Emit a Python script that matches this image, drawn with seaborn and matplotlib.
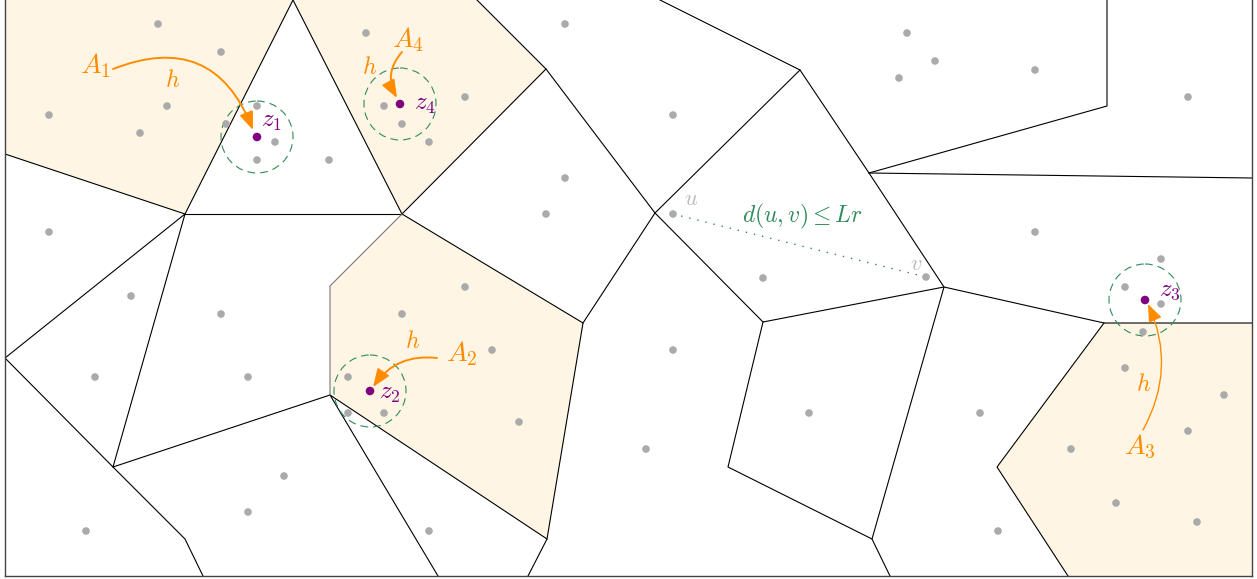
import matplotlib
matplotlib.use('Agg')
import matplotlib.pyplot as plt
from matplotlib.patches import Polygon, Circle, FancyArrowPatch
import seaborn as sns

plt.rcParams['mathtext.fontset'] = 'cm'

# coordenadas em pixels (y para baixo)
pts_x = [158, 221, 49, 167, 140, 226, 257, 257, 275, 329, 366, 384, 402, 429, 465,
         565, 673, 565, 546, 673, 49, 131, 221, 95, 248, 402, 465, 492, 348, 348,
         384, 519, 429, 284, 248, 86, 673, 646, 763, 926, 809, 907, 935, 899, 1035,
         1188, 1035, 1161, 1125, 1161, 1143, 1125, 1224, 1188, 1071, 1116, 1197, 998, 980]
pts_y = [24, 52, 115, 106, 133, 124, 106, 160, 142, 160, 33, 106, 124, 142, 97,
         24, 115, 178, 214, 214, 232, 296, 314, 377, 377, 314, 287, 350, 377, 413,
         413, 422, 531, 476, 512, 531, 350, 449, 278, 277, 413, 33, 61, 78, 70,
         97, 232, 259, 287, 304, 332, 368, 395, 431, 449, 503, 522, 531, 413]

ctr_x = [257, 370, 1145, 400]
ctr_y = [137, 391, 300, 104]
ctr_labels = [r'$z_1$', r'$z_2$', r'$z_3$', r'$z_4$']
ctr_label_pos = [(271, 121), (390, 393), (1170, 290), (425, 104)]
radius = 36

# regioes sombreadas A1..A4
regions = {
    'A1': [(5, 0), (293, 0), (185, 214), (5, 154)],
    'A2': [(402, 214), (583, 323), (547, 539), (330, 395), (330, 286)],
    'A3': [(1104, 323), (1252, 323), (1252, 576), (1068, 576), (997, 467)],
    'A4': [(293, 0), (477, 0), (546, 69), (402, 214)],
}

# arestas do diagrama
edges = [
    [(5, 154), (185, 214), (293, 0), (402, 214), (546, 69), (477, 0)],
    [(185, 214), (402, 214)],
    [(402, 214), (583, 323), (547, 539), (528, 576)],
    [(547, 539), (330, 395), (438, 576)],
    [(330, 395), (113, 467), (185, 214), (5, 358), (113, 467), (185, 539), (203, 576)],
    [(546, 69), (655, 213), (800, 70), (660, 0)],
    [(800, 70), (869, 173), (1107, 106), (1107, 0)],
    [(869, 173), (1252, 178)],
    [(869, 173), (944, 287), (872, 539), (890, 576)],
    [(655, 213), (583, 323)],
    [(655, 213), (763, 322), (944, 287), (1104, 323), (1252, 323)],
    [(763, 322), (728, 467), (872, 539)],
    [(1104, 323), (997, 467), (1068, 576)],
]
gray_edges = [[(402, 214), (330, 286), (330, 395)]]

# setas h: (inicio, fim, rad, largura)
arrows = [
    ((113, 69), (253, 130), -0.5, 1.4),
    ((437, 358), (373, 387), 0.3, 1.4),
    ((1143, 430), (1148, 304), 0.25, 1.0),
    ((402, 52), (397, 98), 0.35, 1.4),
]
a_labels = [r'$A_1$', r'$A_2$', r'$A_3$', r'$A_4$']
a_label_pos = [(96, 66), (462, 354), (1140, 447), (408, 40)]
h_label_pos = [(173, 80), (413, 341), (1144, 384), (370, 67)]

u_pt = (673, 214)
v_pt = (926, 277)

orange = '#ff8c00'
green = '#2e8b57'
purple = '#800080'
cream = '#fef5e4'

fig = plt.figure(figsize=(12.57, 5.79), dpi=100)
ax = fig.add_axes([5 / 1257, 3 / 579, 1247 / 1257, 576 / 579])
ax.set_xlim(5, 1252)
ax.set_ylim(576, 0)
ax.set_xticks([])
ax.set_yticks([])
for s in ['left', 'right', 'bottom']:
    ax.spines[s].set_color('#444444')
    ax.spines[s].set_linewidth(1.0)
ax.spines['top'].set_visible(False)

for name, verts in regions.items():
    ax.add_patch(Polygon(verts, closed=True, facecolor=cream, edgecolor='none', zorder=1))

for e in edges:
    xs, ys = zip(*e)
    ax.plot(xs, ys, color='black', lw=0.8, zorder=2)
for e in gray_edges:
    xs, ys = zip(*e)
    ax.plot(xs, ys, color='#777777', lw=0.8, zorder=2)

for cx, cy in zip(ctr_x, ctr_y):
    ax.add_patch(Circle((cx, cy), radius, fill=False, edgecolor=green, lw=0.8,
                        linestyle=(0, (7, 4.5)), zorder=3))

ax.plot([u_pt[0], v_pt[0]], [u_pt[1], v_pt[1]], color=green, lw=1.0,
        linestyle=(0, (1, 5)), zorder=3)

sns.scatterplot(x=pts_x, y=pts_y, color='#aaaaaa', s=30, edgecolor='none', ax=ax, zorder=4)
sns.scatterplot(x=ctr_x, y=ctr_y, color=purple, s=38, edgecolor='none', ax=ax, zorder=5)

for (p0, p1, rad, lw) in arrows:
    ax.add_patch(FancyArrowPatch(p0, p1, connectionstyle=f'arc3,rad={rad}',
                                 arrowstyle='-|>,head_length=0.9,head_width=0.35',
                                 mutation_scale=12, color=orange, lw=lw,
                                 shrinkA=0, shrinkB=0, zorder=6))

for lab, (x, y) in zip(a_labels, a_label_pos):
    ax.text(x, y, lab, color=orange, fontsize=20, ha='center', va='center', zorder=7)
for (x, y) in h_label_pos:
    ax.text(x, y, r'$h$', color=orange, fontsize=17, ha='center', va='center', zorder=7)
for lab, (x, y) in zip(ctr_labels, ctr_label_pos):
    ax.text(x, y, lab, color=purple, fontsize=18, ha='center', va='center', zorder=7)

ax.text(691, 199, r'$u$', color='#bbbbbb', fontsize=16, ha='center', va='center')
ax.text(916, 264, r'$v$', color='#bbbbbb', fontsize=16, ha='center', va='center')
ax.text(803, 216, r'$d(u,v)\leq Lr$', color=green, fontsize=17, ha='center', va='center')

fig.savefig('out.png', dpi=100)
